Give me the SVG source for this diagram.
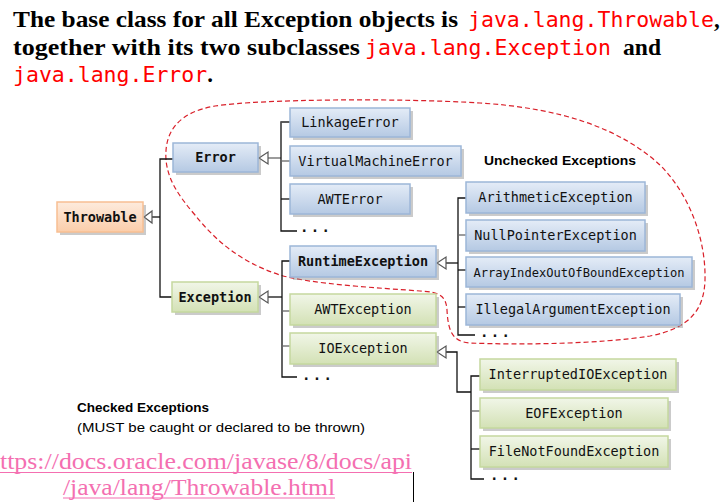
<svg xmlns="http://www.w3.org/2000/svg" width="725" height="502" viewBox="0 0 725 502">
<defs>
<linearGradient id="gBlue" x1="0" y1="0" x2="0" y2="1">
<stop offset="0" stop-color="#e4ecf7"/><stop offset="1" stop-color="#b5c9e3"/>
</linearGradient>
<linearGradient id="gGreen" x1="0" y1="0" x2="0" y2="1">
<stop offset="0" stop-color="#f1f6e8"/><stop offset="1" stop-color="#d3e1b5"/>
</linearGradient>
<linearGradient id="gOrange" x1="0" y1="0" x2="0" y2="1">
<stop offset="0" stop-color="#fdebdd"/><stop offset="1" stop-color="#fbcdaa"/>
</linearGradient>
</defs>
<style>
.sh{fill:#8c8c8c;opacity:.45}
.blue{fill:url(#gBlue);stroke:#9cb6d8;stroke-width:1.5}
.green{fill:url(#gGreen);stroke:#c5d89e;stroke-width:1.5}
.orange{fill:url(#gOrange);stroke:#f8bf92;stroke-width:1.5}
.lbl{font-family:"DejaVu Sans Mono","Liberation Mono",monospace;font-size:13.5px;fill:#111;text-anchor:middle}
.b{font-weight:bold}
.ln{stroke:#111;stroke-width:1.3;fill:none}
.lg{stroke:#666;stroke-width:1.3;fill:none}
.tri{fill:#fff;stroke:#555;stroke-width:1.2}
.dots{font-family:"DejaVu Sans Mono",monospace;font-size:14px;font-weight:bold;fill:#111}
.title{font-family:"Liberation Serif","DejaVu Serif",serif;font-size:23px;font-weight:bold;fill:#000}
.code{font-family:"DejaVu Sans Mono","Liberation Mono",monospace;font-size:21.5px;font-weight:normal;fill:#f00}
.note{font-family:"Liberation Sans","Open Sans",sans-serif;font-size:13px;fill:#000}
.url{font-family:"Liberation Serif","DejaVu Serif",serif;font-size:23px;fill:#f46fb1}
</style>

<g id="title">
<text class="title" x="13" y="27" textLength="445" lengthAdjust="spacingAndGlyphs">The base class for all Exception objects is</text>
<text class="title" x="468" y="27"><tspan class="code">java.lang.Throwable</tspan>,</text>
<text class="title" x="13" y="55" textLength="347" lengthAdjust="spacingAndGlyphs">together with its two subclasses</text>
<text class="code" x="365" y="55">java.lang.Exception</text>
<text class="title" x="623" y="55" textLength="38" lengthAdjust="spacingAndGlyphs">and</text>
<text class="title" x="13" y="82"><tspan class="code">java.lang.Error</tspan>.</text>
</g>

<path id="unchecked-region" d="M166,160 C164,130 180,112 215,106 C260,99 400,98 480,103 C560,108 620,128 660,165 C690,195 706,240 705,280 C704,310 690,328 650,336 C600,344 520,345 470,343 C452,342 448,330 447,310 C446,296 440,292 420,291 C380,288 310,284 280,275 C240,262 215,240 195,215 C178,195 168,180 166,160 Z" fill="none" stroke="#d9202a" stroke-width="1.2" stroke-dasharray="5,3"/>

<g id="connectors">
<polyline class="ln" points="152,217 160,217"/>
<polyline class="ln" points="173,159 160,159 160,297 172,297"/>
<polygon class="tri" points="144,217 152,211 152,223"/>
<polyline class="lg" points="268,158 281,158"/>
<polygon class="tri" points="259,158 268,152 268,164"/>
<polyline class="ln" points="290,122 281,122 281,231 297,231"/>
<polyline class="lg" points="281,122 290,122"/>
<polyline class="lg" points="281,161 290,161"/>
<polyline class="ln" points="281,199 290,199"/>
<polyline class="ln" points="268,297 282,297"/>
<polygon class="tri" points="259,297 268,291 268,303"/>
<polyline class="ln" points="290,261 282,261 282,377 297,377"/>
<polyline class="lg" points="282,311 290,311"/>
<polyline class="lg" points="282,346 290,346"/>
<polyline class="ln" points="446,263 458,263"/>
<polygon class="tri" points="437,263 446,257 446,269"/>
<polyline class="ln" points="466,198 458,198 458,335 475,335"/>
<polyline class="lg" points="458,235 466,235"/>
<polyline class="ln" points="458,270 466,270"/>
<polyline class="ln" points="458,307 466,307"/>
<polyline class="ln" points="446,352 457,352 457,392 471,392"/>
<polygon class="tri" points="437,352 446,346 446,358"/>
<polyline class="ln" points="480,376 471,376 471,479 484,479"/>
<polyline class="lg" points="471,411 480,411"/>
<polyline class="ln" points="471,449 480,449"/>
<text class="dots" x="300" y="232" textLength="30" lengthAdjust="spacing">...</text>
<text class="dots" x="302" y="380" textLength="30" lengthAdjust="spacing">...</text>
<text class="dots" x="480" y="337" textLength="30" lengthAdjust="spacing">...</text>
<text class="dots" x="490" y="480" textLength="30" lengthAdjust="spacing">...</text>
</g>

<g id="Throwable"><rect class="sh" x="60" y="205" width="86" height="30"/><rect class="orange" x="57" y="202" width="86" height="30"/><text class="lbl b" x="100" y="221.5">Throwable</text></g>
<g id="Error"><rect class="sh" x="176" y="146" width="85" height="29"/><rect class="blue" x="173" y="143" width="85" height="29"/><text class="lbl b" x="215.5" y="162">Error</text></g>
<g id="Exception"><rect class="sh" x="175" y="285" width="86" height="30"/><rect class="green" x="172" y="282" width="86" height="30"/><text class="lbl b" x="215" y="301.5">Exception</text></g>
<g id="LinkageError"><rect class="sh" x="293" y="111" width="120" height="29"/><rect class="blue" x="290" y="108" width="120" height="29"/><text class="lbl" x="350" y="127">LinkageError</text></g>
<g id="VirtualMachineError"><rect class="sh" x="293" y="149" width="171" height="30"/><rect class="blue" x="290" y="146" width="171" height="30"/><text class="lbl" x="375.5" y="165.5">VirtualMachineError</text></g>
<g id="AWTError"><rect class="sh" x="293" y="187" width="120" height="30"/><rect class="blue" x="290" y="184" width="120" height="30"/><text class="lbl" x="350" y="203.5">AWTError</text></g>
<g id="RuntimeException"><rect class="sh" x="293" y="249" width="146" height="31"/><rect class="blue" x="290" y="246" width="146" height="31"/><text class="lbl b" x="363" y="266">RuntimeException</text></g>
<g id="ArithmeticException"><rect class="sh" x="469" y="185" width="179" height="31"/><rect class="blue" x="466" y="182" width="179" height="31"/><text class="lbl" x="555.5" y="202">ArithmeticException</text></g>
<g id="NullPointerException"><rect class="sh" x="469" y="223" width="179" height="31"/><rect class="blue" x="466" y="220" width="179" height="31"/><text class="lbl" x="555.5" y="240">NullPointerException</text></g>
<g id="ArrayIndexOutOfBoundException"><rect class="sh" x="469" y="260" width="226" height="30"/><rect class="blue" x="466" y="257" width="226" height="30"/><text class="lbl" x="579" y="276.5" style="font-size:12.1px">ArrayIndexOutOfBoundException</text></g>
<g id="IllegalArgumentException"><rect class="sh" x="469" y="297" width="214" height="31"/><rect class="blue" x="466" y="294" width="214" height="31"/><text class="lbl" x="573" y="314">IllegalArgumentException</text></g>
<g id="AWTException"><rect class="sh" x="293" y="297" width="146" height="31"/><rect class="green" x="290" y="294" width="146" height="31"/><text class="lbl" x="363" y="314">AWTException</text></g>
<g id="IOException"><rect class="sh" x="293" y="336" width="146" height="31"/><rect class="green" x="290" y="333" width="146" height="31"/><text class="lbl" x="363" y="353">IOException</text></g>
<g id="InterruptedIOException"><rect class="sh" x="483" y="362" width="196" height="31"/><rect class="green" x="480" y="359" width="196" height="31"/><text class="lbl" x="578" y="379">InterruptedIOException</text></g>
<g id="EOFException"><rect class="sh" x="483" y="401" width="188" height="30"/><rect class="green" x="480" y="398" width="188" height="30"/><text class="lbl" x="574" y="417.5">EOFException</text></g>
<g id="FileNotFoundException"><rect class="sh" x="483" y="439" width="188" height="31"/><rect class="green" x="480" y="436" width="188" height="31"/><text class="lbl" x="574" y="456">FileNotFoundException</text></g>

<g id="labels">
<text class="note" x="484" y="165" font-weight="bold" textLength="152" lengthAdjust="spacingAndGlyphs">Unchecked Exceptions</text>
<text class="note" x="77" y="412" font-weight="bold" textLength="132" lengthAdjust="spacingAndGlyphs">Checked Exceptions</text>
<text class="note" x="77" y="432" textLength="288" lengthAdjust="spacingAndGlyphs">(MUST be caught or declared to be thrown)</text>
</g>

<g id="link">
<text class="url" x="0" y="469" textLength="412" lengthAdjust="spacingAndGlyphs">ttps://docs.oracle.com/javase/8/docs/api</text>
<line x1="0" y1="472.5" x2="412" y2="472.5" stroke="#f46fb1" stroke-width="1.2"/>
<text class="url" x="63" y="495" textLength="272" lengthAdjust="spacingAndGlyphs">/java/lang/Throwable.html</text>
<line x1="63" y1="498" x2="335" y2="498" stroke="#f46fb1" stroke-width="1.2"/>
<line x1="413.5" y1="472" x2="413.5" y2="502" stroke="#000" stroke-width="1"/>
</g>
</svg>
